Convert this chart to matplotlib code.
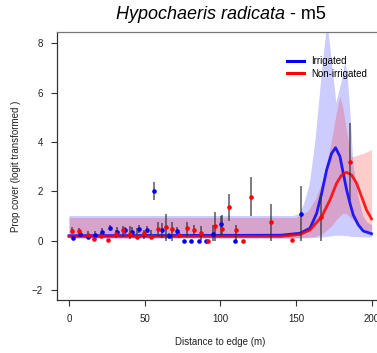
import numpy as np
import matplotlib
matplotlib.use("Agg")
import matplotlib.pyplot as plt

plt.rcParams['font.family'] = ['Liberation Sans', 'DejaVu Sans']

# ---- Observed points: irrigated (blue) ----
irr_x  = [2.6, 7.5, 12.7, 17.2, 22, 27, 32, 37, 41.8, 46.2, 51.3, 56.3, 61.4, 66.2,
          71.3, 75.7, 80.7, 85.8, 90.6, 95.5, 100.5, 109.6, 153.6]
irr_y  = [0.11, 0.28, 0.15, 0.24, 0.34, 0.52, 0.35, 0.42, 0.36, 0.47, 0.43, 2.02, 0.44, 0.18,
          0.38, 0.0, 0.0, 0.0, 0.0, 0.28, 0.66, 0.0, 1.1]
irr_lo = [0.11, 0.15, 0.15, 0.12, 0.15, 0.40, 0.20, 0.25, 0.20, 0.30, 0.30, 1.63, 0.10, 0.10,
          0.25, 0.0, 0.0, 0.0, 0.0, 0.0, 0.20, 0.0, 0.0]
irr_hi = [0.11, 0.45, 0.15, 0.40, 0.50, 0.65, 0.55, 0.55, 0.55, 0.65, 0.60, 2.37, 0.70, 0.30,
          0.55, 0.0, 0.0, 0.0, 0.0, 0.65, 1.00, 0.0, 2.23]

# ---- Observed points: non-irrigated (red) ----
non_x  = [2.2, 6.8, 12.3, 16.5, 21, 26, 31, 35.4, 40, 45, 49.3, 54, 58.7, 63.8, 68.2, 72.4,
          78, 82.3, 87.1, 91.6, 96.6, 101, 105.6, 110.7, 115.3, 120, 133.8, 147.4, 166.5, 186]
non_y  = [0.40, 0.38, 0.23, 0.08, 0.20, 0.04, 0.27, 0.42, 0.26, 0.16, 0.32, 0.13, 0.48, 0.55,
          0.47, 0.23, 0.52, 0.44, 0.30, 0.0, 0.59, 0.48, 1.35, 0.42, 0.0, 1.78, 0.74, 0.01, 0.96, 3.18]
non_lo = [0.30, 0.25, 0.10, 0.08, 0.10, 0.04, 0.10, 0.15, 0.05, 0.05, 0.05, 0.05, 0.20, 0.0,
          0.0, 0.10, 0.15, 0.25, 0.04, 0.0, 0.0, 0.21, 0.81, 0.0, 0.0, 1.00, 0.0, 0.01, 0.0, 1.66]
non_hi = [0.55, 0.50, 0.40, 0.08, 0.35, 0.04, 0.45, 0.60, 0.60, 0.50, 0.45, 0.45, 0.75, 1.10,
          0.75, 0.35, 0.75, 0.65, 0.58, 0.0, 1.17, 1.04, 1.89, 0.65, 0.0, 2.57, 1.48, 0.01, 1.93, 4.78]

# ---- Fitted curves ----
irr_fit_x = [0, 140, 152.7, 159.3, 163.7, 167, 170.3, 173.6, 176.2, 179.1, 181.3, 183.5,
             185.7, 187.9, 191.2, 194.5, 200]
irr_fit_y = [0.2, 0.22, 0.3, 0.5, 1.11, 1.92, 2.87, 3.54, 3.77, 3.41, 2.73, 2.06,
             1.52, 1.04, 0.64, 0.39, 0.28]
non_fit_x = [0, 140, 152.7, 159.3, 167, 172.5, 176.9, 180.2, 183.5, 186.8, 190.1, 193.4,
             196.7, 200]
non_fit_y = [0.17, 0.17, 0.25, 0.43, 0.97, 1.65, 2.33, 2.66, 2.77, 2.66, 2.33, 1.78,
             1.24, 0.88]

# ---- Confidence bands ----
irr_band_x  = [0, 148, 152, 155, 158.8, 162.6, 167.4, 170.5, 173.6, 176.4, 180, 182.4,
               184, 185.7, 187.7, 191, 194.3, 197, 200]
irr_band_hi = [1.02, 1.02, 1.1, 1.5, 2.3, 4.1, 7.2, 8.9, 7.2, 5.6, 6.5, 7.3,
               6.6, 5.2, 3.1, 1.8, 1.0, 0.75, 0.65]
irr_band_lo = [0.1, 0.1, 0.1, 0.11, 0.12, 0.13, 0.15, 0.17, 0.2, 0.22, 0.22, 0.2,
               0.2, 0.18, 0.17, 0.16, 0.15, 0.15, 0.15]
non_band_x  = [0, 150, 158, 163, 168, 173.6, 176.7, 179, 181, 183.3, 186.6, 190, 195, 200]
non_band_hi = [0.94, 0.94, 1.2, 1.7, 2.5, 4.1, 5.2, 5.85, 5.4, 4.5, 3.4, 3.45, 3.55, 3.7]
non_band_lo = [0.12, 0.12, 0.14, 0.18, 0.3, 0.6, 0.85, 1.0, 1.1, 1.1, 0.9, 0.7, 0.45, 0.3]

x_ticks = [0, 50, 100, 150, 200]
y_ticks = [-2, 0, 2, 4, 6, 8]

BLUE = '#0000FF'
RED = '#FF0000'

fig = plt.figure(figsize=(3.77, 3.53), dpi=100)
ax = fig.add_axes([0.1509, 0.1493, 0.8668, 0.7592])

ax.fill_between(irr_band_x, irr_band_lo, irr_band_hi, color=BLUE, alpha=0.2, lw=0, zorder=1)
ax.fill_between(non_band_x, non_band_lo, non_band_hi, color=RED, alpha=0.2, lw=0, zorder=1)

ax.plot(irr_fit_x, irr_fit_y, color=BLUE, lw=2.0, zorder=2, alpha=0.85)
ax.plot(non_fit_x, non_fit_y, color=RED, lw=2.0, zorder=2, alpha=0.85)

for xs, lo, hi in [(irr_x, irr_lo, irr_hi), (non_x, non_lo, non_hi)]:
    for xi, l, h in zip(xs, lo, hi):
        if h > l:
            ax.vlines(xi, l, h, color='#333333', alpha=0.75, lw=1.2, zorder=3)

ax.plot(irr_x, irr_y, 'o', color=BLUE, ms=3.3, mec='none', zorder=4)
ax.plot(non_x, non_y, 'o', color=RED, ms=3.3, mec='none', zorder=4)

ax.set_xlim(-8, 208)
ax.set_ylim(-2.42, 8.45)
ax.set_xticks(x_ticks)
ax.set_yticks(y_ticks)
ax.tick_params(axis='both', labelsize=7, length=4, width=0.8, color='#333333',
               labelcolor='#222222', pad=6)
for s in ax.spines.values():
    s.set_color('#333333')
    s.set_linewidth(0.9)
ax.spines['top'].set_color('#777777')

ax.set_xlabel('Distance to edge (m)', fontsize=7, color='#222222', labelpad=9.5)
ax.set_ylabel('Prop cover (logit transformed )', fontsize=7, color='#222222', labelpad=8)

# Title: italic species name + plain suffix, centred together over x = 221 px
t1 = fig.text(0, 0.958, 'Hypochaeris radicata', fontsize=13, style='italic',
              ha='left', va='center')
t2 = fig.text(0, 0.958, ' - m5', fontsize=13, ha='left', va='center')
fig.canvas.draw()
r = fig.canvas.get_renderer()
w1 = t1.get_window_extent(r).width
w2 = t2.get_window_extent(r).width
start = 221 - (w1 + w2) / 2
t1.set_x(start / 377)
t2.set_x((start + w1) / 377)

from matplotlib.lines import Line2D
handles = [Line2D([], [], color=BLUE, lw=2.2), Line2D([], [], color=RED, lw=2.2)]
ax.legend(handles, ['Irrigated', 'Non-irrigated'], loc='upper left',
          bbox_to_anchor=(0.689, 0.93), frameon=False, fontsize=7,
          handlelength=1.75, handletextpad=0.75, labelspacing=0.3, borderpad=0)

fig.savefig('out.png', dpi=100)
